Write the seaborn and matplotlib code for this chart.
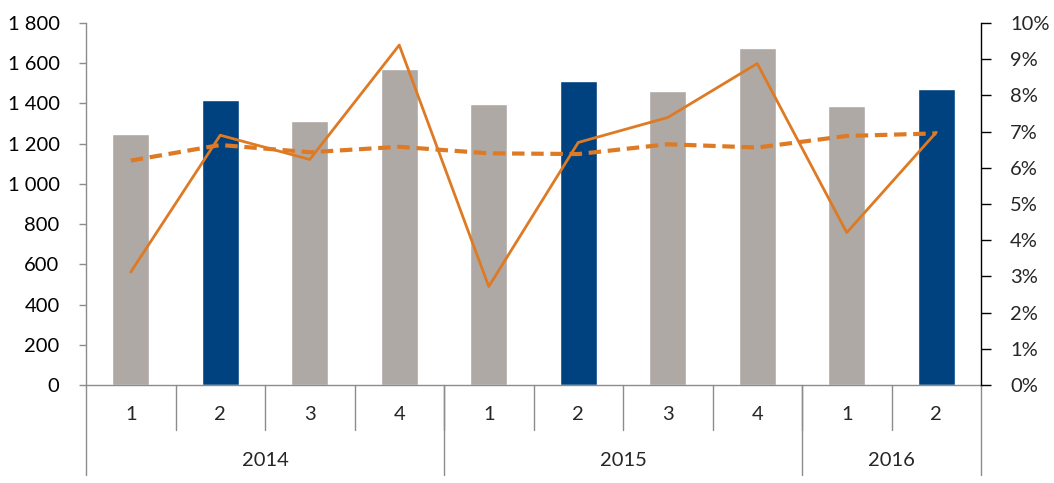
import matplotlib
matplotlib.use("Agg")
import matplotlib.pyplot as plt
import matplotlib.ticker as mticker
import seaborn as sns
import pandas as pd
import numpy as np

quarters = ["1", "2", "3", "4", "1", "2", "3", "4", "1", "2"]
years = ["2014", "2015", "2016"]
year_counts = [4, 4, 2]
bar_values = [1250, 1418, 1315, 1573, 1398, 1513, 1463, 1677, 1388, 1473]
solid_pct = [3.12, 6.90, 6.23, 9.39, 2.72, 6.70, 7.39, 8.88, 4.21, 6.98]
dashed_pct = [6.20, 6.63, 6.43, 6.58, 6.40, 6.38, 6.65, 6.56, 6.88, 6.95]

GRAY = "#AFA9A6"
NAVY = "#00427F"
ORANGE = "#DE7A24"
bar_colors = [NAVY if q == "2" else GRAY for q in quarters]

sns.set_style("white")
plt.rcParams["font.family"] = ["Lato", "DejaVu Sans"]
FS = 14.5

fig = plt.figure(figsize=(10.54, 4.83), dpi=100)
ax = fig.add_axes([86 / 1054, 1 - 385 / 483, (981 - 86) / 1054, (385 - 23) / 483])

idx = list(range(len(bar_values)))
df = pd.DataFrame({"i": idx, "v": bar_values, "c": [str(i) for i in idx]})
sns.barplot(data=df, x="i", y="v", hue="c", palette=bar_colors, legend=False,
            width=0.41, ax=ax, saturation=1, native_scale=True)
ax.set_xlim(-0.5, len(idx) - 0.5)
ax.set_ylim(0, 1800)
ax.set_yticks(np.arange(0, 1801, 200))
ax.yaxis.set_major_formatter(mticker.FuncFormatter(lambda v, p: f"{int(v):,}".replace(",", " ")))
ax.set_xticks([])
ax.set_xlabel("")
ax.set_ylabel("")
ax.tick_params(axis="y", left=True, length=5, width=1, color="#8C8C8C", labelsize=FS, pad=14, labelcolor="black")
for s in ["top", "right"]:
    ax.spines[s].set_visible(False)
ax.spines["left"].set_color("#8C8C8C")
ax.spines["bottom"].set_color("#8C8C8C")
ax.spines["left"].set_linewidth(1)
ax.spines["bottom"].set_linewidth(1)

ax2 = ax.twinx()
ldf = pd.DataFrame({"i": idx, "s": solid_pct, "d": dashed_pct})
sns.lineplot(data=ldf, x="i", y="d", ax=ax2, color=ORANGE, lw=3.0,
             dashes=False, linestyle=(0, (3, 1.6)))
sns.lineplot(data=ldf, x="i", y="s", ax=ax2, color=ORANGE, lw=2.0)
ax2.set_ylim(0, 10)
ax2.set_xlim(-0.5, len(idx) - 0.5)
ax2.set_yticks(np.arange(0, 11, 1))
ax2.yaxis.set_major_formatter(mticker.FuncFormatter(lambda v, p: f"{int(v)}%"))
ax2.set_ylabel("")
ax2.set_xlabel("")
ax2.tick_params(axis="y", right=True, length=7, width=1, color="black", labelsize=FS, pad=14)
for s in ["top", "left", "bottom"]:
    ax2.spines[s].set_visible(False)
ax2.spines["right"].set_color("black")
ax2.spines["right"].set_linewidth(1)

trans = ax.get_xaxis_transform()
y_q_line = -45 / 362
y_y_line = -90 / 362
sep = "#8C8C8C"
for i, q in enumerate(quarters):
    ax.text(i, -30 / 362, q, transform=trans, ha="center", va="center", fontsize=FS)
for b in range(1, len(quarters)):
    ax.plot([b - 0.5, b - 0.5], [0, y_q_line], transform=trans, color=sep, lw=1, clip_on=False)
start = 0
bounds = [-0.5]
for y, n in zip(years, year_counts):
    ax.text(start + (n - 1) / 2, -75 / 362, y, transform=trans, ha="center", va="center", fontsize=FS)
    start += n
    bounds.append(start - 0.5)
for b in bounds:
    ax.plot([b, b], [0, y_y_line], transform=trans, color=sep, lw=1, clip_on=False)

fig.savefig("out.png", dpi=100)
